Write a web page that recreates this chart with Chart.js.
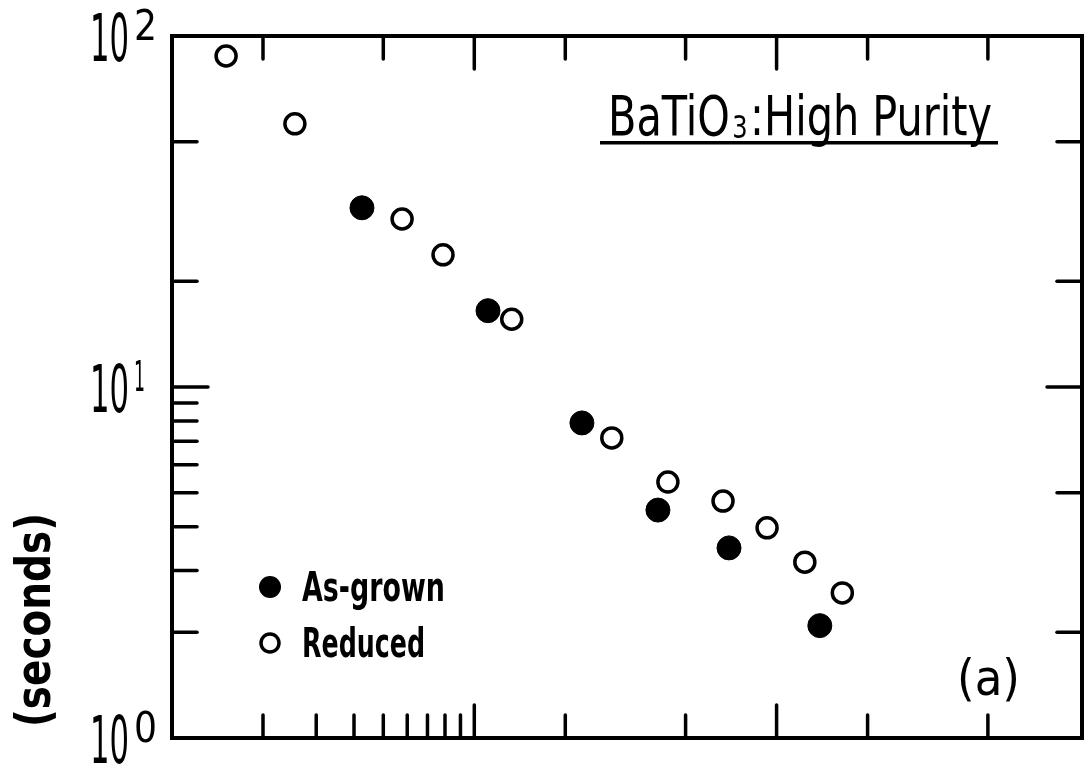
<!DOCTYPE html>
<html>
<head>
<meta charset="utf-8">
<script src="https://cdn.jsdelivr.net/npm/chart.js@4/dist/chart.umd.min.js"></script>
<style>
  body { margin: 0; background: #fff; }
  canvas { display: block; }
</style>
</head>
<body>
<canvas id="myChart" width="1085" height="764"></canvas>
<script>
// data (log-log)
var grownX = [4.25, 11.1, 22.7, 40.5, 69.6, 139];
var grownY = [32.4, 16.5, 7.9, 4.46, 3.48, 2.09];
var reducedX = [1.51, 2.55, 5.77, 7.88, 13.3, 28.5, 43.7, 66.5, 93.0, 124, 165];
var reducedY = [87.7, 56.2, 30.1, 23.8, 15.6, 7.16, 5.36, 4.73, 3.97, 3.17, 2.59];

// tick marks
var xTopTicks = [2, 5, 10, 20, 50, 100, 200, 500];
var xBottomTicks = [2, 3, 4, 5, 6, 7, 8, 9, 10, 20, 50, 100, 200, 500];
var xMajorTicks = [10, 100];
var yLeftTicks = [2, 3, 4, 5, 6, 7, 8, 9, 10, 20, 50];
var yRightTicks = [2, 5, 10, 20, 50];
var yMajorTicks = [10];
var yLabelExponents = [0, 1, 2];

var seriesNames = ["As-grown", "Reduced"];
var plotTitle = ["BaTiO", "3", ":High Purity"];
var panelLabel = "(a)";
var yTitle = "(seconds)";

var FONT = '"Liberation Sans Narrow", "DejaVu Sans Condensed", "DejaVu Sans", sans-serif';

function toPoints(xs, ys) {
  var pts = [];
  for (var i = 0; i < xs.length; i++) pts.push({ x: xs[i], y: ys[i] });
  return pts;
}

// draw text squeezed/stretched to a given width, starting at x
function fitText(ctx, text, x, y, width, font) {
  ctx.font = font;
  var w = ctx.measureText(text).width;
  ctx.save();
  ctx.translate(x, y);
  ctx.scale(width / w, 1);
  ctx.textAlign = "left";
  ctx.fillText(text, 0, 0);
  ctx.restore();
}

var framePlugin = {
  id: "frame",
  beforeDatasetsDraw: function (chart) {
    var ctx = chart.ctx;
    var a = chart.chartArea;
    var xs = chart.scales.x;
    var ys = chart.scales.y;
    ctx.save();
    ctx.strokeStyle = "#000";
    ctx.lineCap = "round";

    ctx.lineWidth = 3.5;
    xTopTicks.forEach(function (v) {
      var px = xs.getPixelForValue(v);
      var len = xMajorTicks.indexOf(v) >= 0 ? 33 : 23;
      ctx.beginPath(); ctx.moveTo(px, a.top); ctx.lineTo(px, a.top + len); ctx.stroke();
    });
    xBottomTicks.forEach(function (v) {
      var px = xs.getPixelForValue(v);
      var len = xMajorTicks.indexOf(v) >= 0 ? 33 : 23;
      ctx.beginPath(); ctx.moveTo(px, a.bottom); ctx.lineTo(px, a.bottom - len); ctx.stroke();
    });
    yLeftTicks.forEach(function (v) {
      var py = ys.getPixelForValue(v);
      var len = yMajorTicks.indexOf(v) >= 0 ? 36 : 25;
      ctx.beginPath(); ctx.moveTo(a.left, py); ctx.lineTo(a.left + len, py); ctx.stroke();
    });
    yRightTicks.forEach(function (v) {
      var py = ys.getPixelForValue(v);
      var len = yMajorTicks.indexOf(v) >= 0 ? 35 : 25;
      ctx.beginPath(); ctx.moveTo(a.right, py); ctx.lineTo(a.right - len, py); ctx.stroke();
    });

    ctx.lineWidth = 4;
    ctx.lineCap = "butt";
    ctx.strokeRect(a.left, a.top, a.right - a.left, a.bottom - a.top);
    ctx.restore();
  },
  afterDraw: function (chart) {
    var ctx = chart.ctx;
    var a = chart.chartArea;
    var ys = chart.scales.y;
    ctx.save();
    ctx.fillStyle = "#000";
    ctx.textBaseline = "alphabetic";

    // y tick labels 10^n
    yLabelExponents.forEach(function (e) {
      var py = ys.getPixelForValue(Math.pow(10, e));
      fitText(ctx, "10", a.left - 82, py + 25, 39, "66px " + FONT);
      fitText(ctx, String(e), a.left - 38, py + 4, e === 1 ? 11 : 23, "42px " + FONT);
    });

    // y axis title
    ctx.save();
    ctx.translate(38, 620);
    ctx.rotate(-Math.PI / 2);
    ctx.textBaseline = "middle";
    fitText(ctx, yTitle, -107, 0, 214, "bold 48px " + FONT);
    ctx.restore();

    // title with subscript, underlined
    ctx.font = "55px " + FONT;
    var w1 = ctx.measureText(plotTitle[0]).width;
    var w3 = ctx.measureText(plotTitle[2]).width;
    ctx.font = "32px " + FONT;
    var w2 = ctx.measureText(plotTitle[1]).width;
    var s = 384 / (w1 + w2 + w3 + 6);
    ctx.save();
    ctx.translate(608, 135);
    ctx.scale(s, 1);
    ctx.font = "55px " + FONT;
    ctx.fillText(plotTitle[0], 0, 0);
    ctx.font = "32px " + FONT;
    ctx.fillText(plotTitle[1], w1 + 3, 3);
    ctx.font = "55px " + FONT;
    ctx.fillText(plotTitle[2], w1 + w2 + 6, 0);
    ctx.restore();
    ctx.fillRect(600, 141, 398, 3.5);

    // panel label
    fitText(ctx, panelLabel, 957, 695, 63, "50px " + FONT);

    // legend
    var ds = chart.data.datasets;
    var rows = [587, 643];
    for (var i = 0; i < ds.length; i++) {
      ctx.beginPath();
      ctx.arc(270, rows[i], i === 0 ? 11 : 9, 0, Math.PI * 2);
      ctx.fillStyle = ds[i].backgroundColor;
      ctx.fill();
      if (i === 1) {
        ctx.lineWidth = 3.5;
        ctx.strokeStyle = "#000";
        ctx.stroke();
      }
      ctx.fillStyle = "#000";
      fitText(ctx, seriesNames[i], 302, rows[i] + 14, i === 0 ? 143 : 123, "bold 40px " + FONT);
    }
    ctx.restore();
  }
};

var myChart = new Chart(document.getElementById("myChart").getContext("2d"), {
  type: "scatter",
  data: {
    datasets: [
      {
        label: seriesNames[0],
        data: toPoints(grownX, grownY),
        backgroundColor: "#000",
        borderColor: "#000",
        borderWidth: 1,
        pointRadius: 12,
      },
      {
        label: seriesNames[1],
        data: toPoints(reducedX, reducedY),
        backgroundColor: "#fff",
        borderColor: "#000",
        borderWidth: 3.5,
        pointRadius: 10,
      },
    ],
  },
  options: {
    responsive: false,
    animation: false,
    devicePixelRatio: 1,
    layout: { autoPadding: false, padding: { left: 172, top: 36, right: 3, bottom: 26 } },
    scales: {
      x: { type: "logarithmic", min: 1, max: 1024, display: false },
      y: { type: "logarithmic", min: 1, max: 100, display: false },
    },
    plugins: {
      legend: { display: false },
      tooltip: { enabled: false },
    },
  },
  plugins: [framePlugin],
});
</script>
</body>
</html>
